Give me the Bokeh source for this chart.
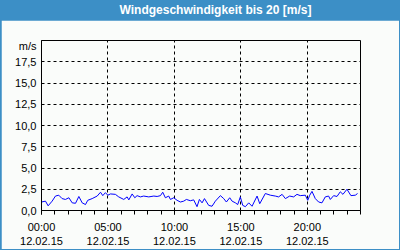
from bokeh.plotting import figure
from bokeh.models import FixedTicker, Range1d, Div
from bokeh.layouts import column
from bokeh.embed import file_html
from bokeh.resources import INLINE

# hours since 00:00 on 12.02.15
hours = [0.00, 0.30, 0.50, 0.80, 1.05, 1.30, 1.55, 1.80, 2.06, 2.31, 2.56, 2.81, 3.06, 3.31,
         3.48, 3.81, 4.19, 4.44, 4.61, 4.81, 4.99, 5.19, 5.56, 5.81, 6.19, 6.44, 6.57, 6.82,
         7.02, 7.19, 7.44, 7.69, 8.07, 8.45, 8.70, 8.95, 9.12, 9.32, 9.57, 9.70, 9.95, 10.20,
         10.45, 10.70, 10.90, 11.20, 11.45, 11.70, 11.88, 12.08, 12.26, 12.58, 12.83, 13.08,
         13.46, 13.71, 13.91, 14.16, 14.34, 14.59, 14.76, 14.96, 15.14, 15.34, 15.59, 15.84,
         16.22, 16.42, 16.84, 17.22, 17.59, 17.84, 18.10, 18.35, 18.67, 18.97, 19.22, 19.47,
         19.85, 20.03, 20.18, 20.35, 20.60, 20.85, 21.10, 21.35, 21.60, 21.73, 21.98, 22.23,
         22.48, 22.68, 22.98, 23.28, 23.61, 23.78]
speed = [1.0, 1.1, 0.55, 1.1, 1.7, 1.8, 1.4, 1.3, 1.5, 0.9, 0.85, 1.65, 0.9, 0.7,
         1.2, 1.4, 1.7, 2.15, 1.75, 2.1, 1.8, 1.95, 1.9, 1.6, 1.3, 1.6, 1.25, 1.95,
         1.5, 1.75, 1.6, 1.7, 1.6, 1.7, 1.65, 1.75, 2.15, 1.5, 1.7, 1.3, 1.5, 1.2,
         1.0, 1.1, 1.3, 1.15, 1.25, 0.45, 1.3, 0.9, 1.4, 0.6, 0.5, 1.1,
         1.75, 1.4, 1.0, 1.5, 1.1, 0.9, 0.7, 1.6, 0.6, 0.45, 0.9, 0.5,
         1.7, 0.8, 2.0, 1.8, 1.7, 1.6, 1.9, 1.4, 1.7, 1.6, 1.9, 1.75,
         1.8, 1.2, 1.8, 2.25, 1.4, 1.0, 0.9, 1.6, 1.7, 1.3, 1.75, 1.65,
         2.2, 1.9, 2.5, 1.75, 1.8, 2.0]

x_ticks = [0, 5, 10, 15, 20]
x_minor = list(range(0, 25))
x_labels = ["00:00\n12.02.15", "05:00\n12.02.15", "10:00\n12.02.15",
            "15:00\n12.02.15", "20:00\n12.02.15"]
y_ticks = [0, 2.5, 5, 7.5, 10, 12.5, 15, 17.5]
y_labels = ["0,0", "2,5", "5,0", "7,5", "10,0", "12,5", "15,0", "17,5"]
unit_pos = 19.3
unit_text = "m/s"
title_text = "Windgeschwindigkeit bis 20 [m/s]"

FONT = "Liberation Sans"
BLUE = "#3C8FC6"
BG = "#FAFCFA"

W, H = 398, 229          # plot inside a 1px blue frame, below a 20px title bar
FL, FR, FT, FB = 40, 39, 20, 39
FW, FH = W - FL - FR, H - FT - FB

p = figure(width=W, height=H, output_backend="svg", toolbar_location=None,
           x_range=Range1d(0, 24), y_range=Range1d(0, 20),
           frame_width=FW, frame_height=FH,
           min_border_left=FL, min_border_right=FR, min_border_top=FT, min_border_bottom=FB)
p.background_fill_color = BG
p.border_fill_color = BG
p.outline_line_color = "black"
p.outline_line_width = 1

p.line(hours, speed, line_color="#0000FF", line_width=1)

# x axis
xa = p.xaxis[0]
xa.ticker = FixedTicker(ticks=x_ticks, minor_ticks=x_minor)
xa.major_label_overrides = {t: l for t, l in zip(x_ticks, x_labels)}
xa.major_tick_in = 0
xa.major_tick_out = 4
xa.minor_tick_in = 0
xa.minor_tick_out = 4
xa.major_tick_line_color = "black"
xa.minor_tick_line_color = "black"
xa.axis_line_color = "black"
xa.major_label_standoff = 6
xa.major_label_text_font = FONT
xa.major_label_text_font_size = "11px"
xa.major_label_text_color = "black"

# y axis (unit shown as an extra label near the top)
ya = p.yaxis[0]
ya.ticker = FixedTicker(ticks=y_ticks + [unit_pos], minor_ticks=[])
overrides = {t: l for t, l in zip(y_ticks, y_labels)}
overrides[unit_pos] = unit_text
ya.major_label_overrides = overrides
ya.major_tick_in = 0
ya.major_tick_out = 0
ya.minor_tick_line_color = None
ya.axis_line_color = "black"
ya.major_label_standoff = 5
ya.major_label_text_font = FONT
ya.major_label_text_font_size = "11px"
ya.major_label_text_color = "black"

# grid
p.xgrid.ticker = FixedTicker(ticks=x_ticks[1:])
p.ygrid.ticker = FixedTicker(ticks=y_ticks[1:])
for g in (p.xgrid, p.ygrid):
    g.grid_line_color = "black"
    g.grid_line_dash = "3 3"
    g.grid_line_width = 1

header = Div(text=title_text, width=W, height=19,
             styles={"background-color": BLUE, "color": "white",
                     "font-family": FONT, "font-weight": "bold", "font-size": "12px",
                     "line-height": "19px", "text-align": "center",
                     "box-sizing": "border-box", "padding-left": "31px",
                     "margin": "0"})

layout = column(header, p, spacing=0,
                styles={"border": f"1px solid {BLUE}", "background-color": BLUE})

open("out.html", "w").write(file_html(layout, INLINE))
